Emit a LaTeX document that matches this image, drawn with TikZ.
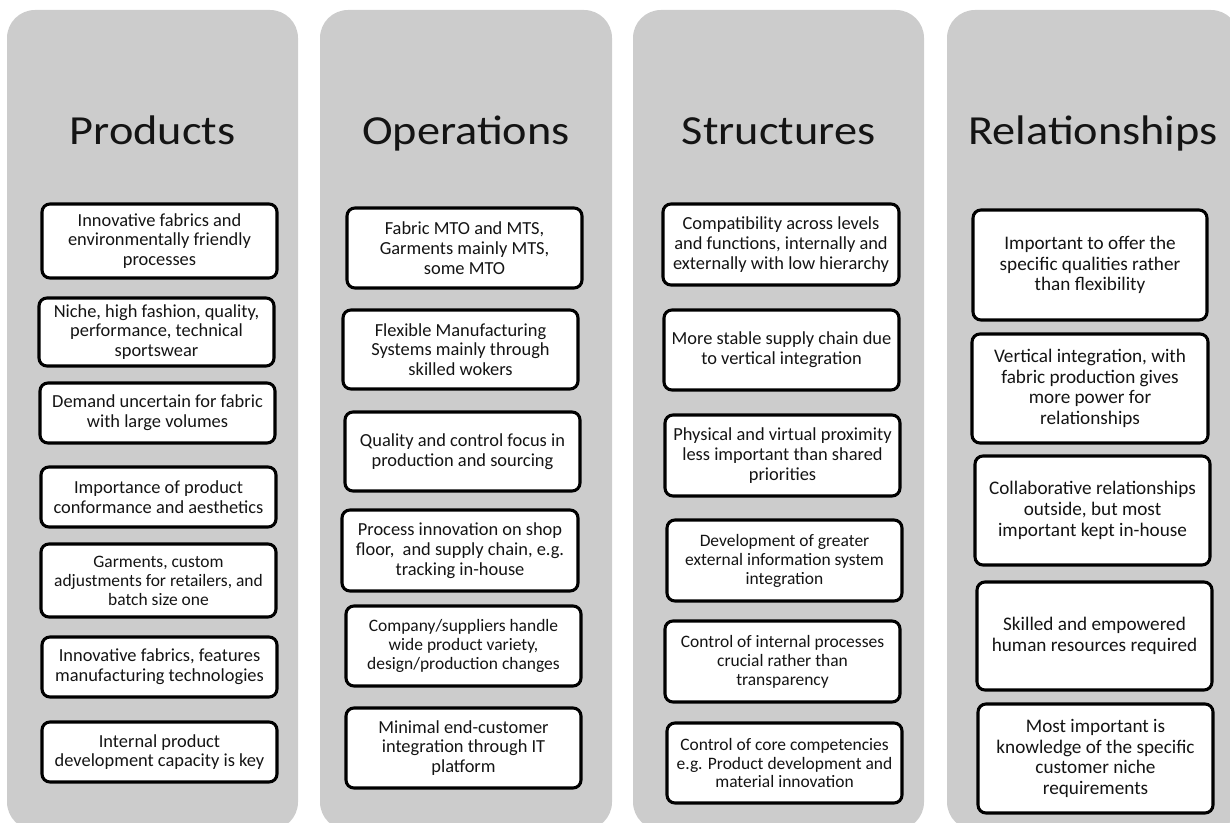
\documentclass[tikz,border=0pt]{standalone}
\usepackage{fontspec}
\setmainfont{Carlito}
\newfontfamily\headfont{Carlito}[FakeStretch=1.12]
\definecolor{panelgray}{RGB}{204,204,204}
\definecolor{inktext}{RGB}{20,20,20}
\tikzset{
  panel/.style={fill=panelgray, draw=none, rounded corners=21pt, inner sep=0pt},
  heading/.style={text=inktext, font=\headfont\fontsize{31}{38}\selectfont, inner sep=0pt, anchor=base},
  cell/.style={draw=black, line width=2.3pt, fill=white, rounded corners=6pt,
    align=center, inner sep=0pt, text=inktext,
    font=\fontsize{13.8}{14.8}\selectfont},
  smallcell/.style={cell, font=\fontsize{13.1}{14.2}\selectfont},
  bigcell/.style={cell, font=\fontsize{14.4}{15.5}\selectfont},
}
% #1 style, #2 name, #3 left, #4 top, #5 right, #6 bottom, #7 text (pixel units)
\newcommand\cellbox[7]{%
  \node[#1, minimum width={(#5-#3)*0.75pt}, minimum height={(#6-#4)*0.75pt}]
    (#2) at ({(#3+#5)/2},{(#4+#6)/2}) {#7};}
\newcommand\colpanel[4]{% name, left, right, title
  \node[panel, minimum width={(#3-#2)*0.75pt}, minimum height={820*0.75pt}]
    (#1) at ({(#2+#3)/2},420) {};
  \node[heading] (#1title) at ({(#2+#3)/2},145) {#4};}
\begin{document}
\begin{tikzpicture}[x=0.75pt, y=-0.75pt]
\useasboundingbox (0,0) rectangle (1230,823);

\colpanel{prod}{7}{298}{Products}
\colpanel{oper}{320}{612}{Operations}
\colpanel{struc}{633}{924}{Structures}
\colpanel{rel}{947}{1239}{Relationships}

% Products
\cellbox{cell}{p1}{42}{204}{277}{278}{Innovative fabrics and\\environmentally friendly\\processes}
\cellbox{cell}{p2}{39}{298}{274}{366}{Niche, high fashion, quality,\\performance, technical\\sportswear}
\cellbox{cell}{p3}{40}{383}{275}{443}{Demand uncertain for fabric\\with large volumes}
\cellbox{cell}{p4}{41}{467}{276}{527}{Importance of product\\conformance and aesthetics}
\cellbox{smallcell}{p5}{41}{544}{276}{617}{Garments, custom\\adjustments for retailers, and\\batch size one}
\cellbox{cell}{p6}{42}{637}{277}{697}{Innovative fabrics, features\\manufacturing technologies}
\cellbox{cell}{p7}{42}{722}{277}{782}{Internal product\\development capacity is key}

% Operations
\cellbox{cell}{o1}{347}{208}{582}{288}{Fabric MTO and MTS,\\Garments mainly MTS,\\some MTO}
\cellbox{cell}{o2}{343}{310}{578}{389}{Flexible Manufacturing\\Systems mainly through\\skilled wokers}
\cellbox{cell}{o3}{345}{412}{580}{491}{Quality and control focus in\\production and sourcing}
\cellbox{cell}{o4}{342}{510}{578}{591}{Process innovation on shop\\floor,\ \ and supply chain, e.g.\\tracking in-house}
\cellbox{smallcell}{o5}{346}{606}{581}{686}{Company/suppliers handle\\wide product variety,\\design/production changes}
\cellbox{cell}{o6}{346}{708}{581}{788}{Minimal end-customer\\integration through IT\\platform}

% Structures
\cellbox{cell}{s1}{663}{204}{899}{285}{Compatibility across levels\\and functions, internally and\\externally with low hierarchy}
\cellbox{cell}{s2}{664}{310}{899}{390}{More stable supply chain due\\to vertical integration}
\cellbox{cell}{s3}{665}{415}{900}{496}{Physical and virtual proximity\\less important than shared\\priorities}
\cellbox{smallcell}{s4}{667}{520}{902}{601}{Development of greater\\external information system\\integration}
\cellbox{smallcell}{s5}{665}{621}{900}{702}{Control of internal processes\\crucial rather than\\transparency}
\cellbox{smallcell}{s6}{667}{723}{902}{803}{Control of core competencies\\e.g. Product development and\\material innovation}

% Relationships
\cellbox{bigcell}{r1}{973}{210}{1207}{320}{Important to offer the\\specific qualities rather\\than flexibility}
\cellbox{bigcell}{r2}{972}{334}{1208}{443}{Vertical integration, with\\fabric production gives\\more power for\\relationships}
\cellbox{bigcell}{r3}{975}{456}{1210}{565}{Collaborative relationships\\outside, but most\\important kept in-house}
\cellbox{bigcell}{r4}{977}{582}{1212}{690}{Skilled and empowered\\human resources required}
\cellbox{bigcell}{r5}{978}{704}{1213}{813}{Most important is\\knowledge of the specific\\customer niche\\requirements}
\end{tikzpicture}
\end{document}
